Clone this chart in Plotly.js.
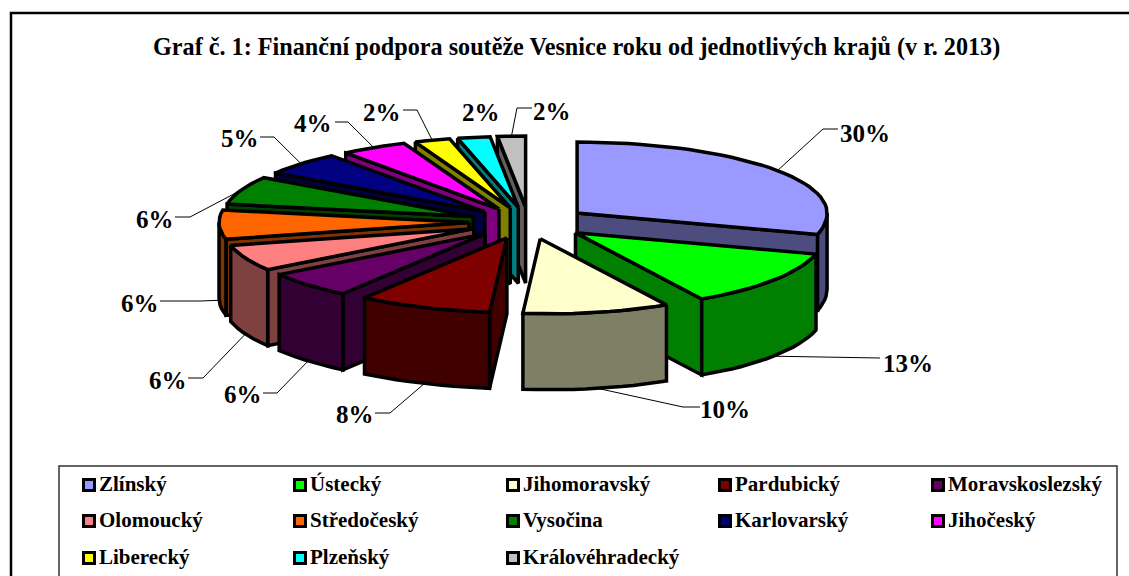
<!DOCTYPE html>
<html><head><meta charset="utf-8">
<script src="https://cdn.plot.ly/plotly-3.0.1.min.js"></script>
<style>html,body{margin:0;padding:0;background:#fff;overflow:hidden}#c{width:1129px;height:576px}</style>
</head><body><div id="c"></div>
<script>
const chartTitle = "Graf č. 1: Finanční podpora soutěže Vesnice roku od jednotlivých krajů (v r. 2013)";
const categories = ["Zlínský","Ústecký","Jihomoravský","Pardubický","Moravskoslezský","Olomoucký","Středočeský","Vysočina","Karlovarský","Jihočeský","Liberecký","Plzeňský","Královéhradecký"];
const shares = [29.6,12.6,9.6,8.4,5.6,5.6,6.4,6.4,5.3,4.3,2.3,2.1,1.8];
const colors = ["#9999FF","#00FF00","#FFFFCC","#800000","#660066","#FF8080","#FF6600","#008000","#000080","#FF00FF","#FFFF00","#00FFFF","#C0C0C0"];

// layout of the 3D pie (page pixels)
const PIE = {cx:529, cy:222, rx:250, ry:71, depth:76, ex:60, ey:15, frontX:11, frontY:4};
const labelSpots = [[865,133],[908,363],[725,409],[355,414],[243,394],[168,380],[140,303],[155,219],[240,138],[313,123],[382,112],[481,112],[552,111]];
const elbows = [[823,129],[855,358],[683,407],[390,413],[277,393],[203,378],[200,301],[190,217],[274,137],[348,122],[417,110],null,[517,108]];
const leaderEnds = [838,880,700,375,263,188,160,175,260,335,403,null,532];
const legendCols = [89,300,513,725,938], legendRows = [485,521,558];

const rad = d => d*Math.PI/180;
const total = shares.reduce((a,b)=>a+b,0);
let cum = 0;
const slices = shares.map((v,i)=>{
  const a0 = cum/total*360; cum += v; const a1 = cum/total*360; const mid=(a0+a1)/2;
  const ax = PIE.cx + PIE.ex*Math.sin(rad(mid)), ay = PIE.cy - PIE.ey*Math.cos(rad(mid)) + 2*Math.max(0,-Math.cos(rad(mid)));
  return {i,v,a0,a1,mid,ax,ay};
});
function rimPt(s,a,dz=0){
  const f=Math.max(0,-Math.cos(rad(a)));
  return [s.ax+PIE.rx*Math.sin(rad(a))+PIE.frontX*f*f, s.ay-PIE.ry*Math.cos(rad(a))+PIE.frontY*f+dz];
}
function arc(s,a0,a1,dz=0){const n=Math.max(2,Math.ceil((a1-a0)/3)),o=[];for(let k=0;k<=n;k++)o.push(rimPt(s,a0+(a1-a0)*k/n,dz));return o;}
function shade(hex){const n=parseInt(hex.slice(1),16);return `rgb(${(n>>16)>>1},${((n>>8)&255)>>1},${(n&255)>>1})`;}
function poly(pts,fill){const p=pts.concat([pts[0]]);return {type:'scatter',mode:'lines',x:p.map(q=>q[0]),y:p.map(q=>q[1]),fill:'toself',fillcolor:fill,line:{color:'#000',width:3.5,shape:'linear'},hoverinfo:'skip',showlegend:false};}

const traces=[];
// leader lines
slices.forEach(s=>{
  const e=elbows[s.i]; if(!e) return;
  const front=s.mid>90&&s.mid<270;
  const st=rimPt(s,s.mid,front?PIE.depth:0);
  traces.push({type:'scatter',mode:'lines',x:[st[0],e[0],leaderEnds[s.i]],y:[st[1],e[1],e[1]],line:{color:'#000',width:1},hoverinfo:'skip',showlegend:false});
});
// faces, back to front
slices.slice().sort((a,b)=>(-Math.cos(rad(a.mid)))-(-Math.cos(rad(b.mid)))).forEach(s=>{
  const col=colors[s.i], side=shade(col), d=PIE.depth;
  const apex=[s.ax,s.ay], apexB=[s.ax,s.ay+d];
  if(Math.sin(rad(s.a0))<0){const p=rimPt(s,s.a0),q=rimPt(s,s.a0,d);traces.push(poly([apex,p,q,apexB],side));}
  if(Math.sin(rad(s.a1))>0){const p=rimPt(s,s.a1),q=rimPt(s,s.a1,d);traces.push(poly([apex,p,q,apexB],side));}
  const r0=Math.max(s.a0,90), r1=Math.min(s.a1,270);
  if(r1>r0){traces.push(poly(arc(s,r0,r1).concat(arc(s,r0,r1,d).reverse()),side));}
  traces.push(poly([apex].concat(arc(s,s.a0,s.a1)),col));
});
// legend
const lgX=[],lgY=[];
categories.forEach((c,i)=>{lgX.push(legendCols[i%5]);lgY.push(legendRows[Math.floor(i/5)]);});
traces.push({type:'scatter',mode:'markers',x:lgX,y:lgY,
  marker:{symbol:'square',size:11,color:colors,line:{color:'#000',width:3}},hoverinfo:'skip',showlegend:false,cliponaxis:false});
traces.push({type:'scatter',mode:'text',x:lgX.map(v=>v+10),y:lgY.map(v=>v+1),text:categories.map(c=>'<b>'+c+'</b>'),textposition:'middle right',
  textfont:{family:'"Liberation Serif",serif',size:21,color:'#000'},hoverinfo:'skip',showlegend:false,cliponaxis:false});

const annotations = slices.map(s=>({xref:'x',yref:'y',x:labelSpots[s.i][0],y:labelSpots[s.i][1],text:'<b>'+Math.round(s.v/total*100)+'%</b>',showarrow:false,xanchor:'center',yanchor:'middle',font:{family:'"Liberation Serif",serif',size:25,color:'#000'}}));
annotations.push({xref:'x',yref:'y',x:576,y:47,text:'<b>'+chartTitle+'</b>',showarrow:false,xanchor:'center',yanchor:'middle',font:{family:'"Liberation Serif",serif',size:24.2,color:'#000'}});

const layout={width:1129,height:576,margin:{l:0,r:0,t:0,b:0},paper_bgcolor:'#fff',plot_bgcolor:'#fff',showlegend:false,
  xaxis:{range:[0,1129],visible:false,fixedrange:true},
  yaxis:{range:[576,0],visible:false,fixedrange:true},
  annotations,
  shapes:[
    {type:'path',xref:'x',yref:'y',path:'M 11 600 L 11 13 L 1140 13',line:{color:'#000',width:2.5},layer:'below'},
    {type:'rect',xref:'x',yref:'y',x0:59,y0:466,x1:1117,y1:600,line:{color:'#333',width:1.5},fillcolor:'rgba(0,0,0,0)',layer:'below'}
  ]};
Plotly.newPlot('c',traces,layout,{displayModeBar:false,responsive:false});
</script></body></html>
